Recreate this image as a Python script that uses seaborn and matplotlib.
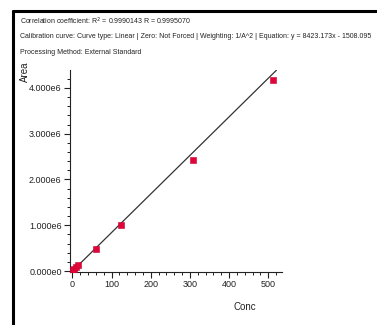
import matplotlib
matplotlib.use("Agg")
import matplotlib.pyplot as plt
import seaborn as sns
import numpy as np
import pandas as pd
from matplotlib.lines import Line2D
from matplotlib.ticker import FuncFormatter, MultipleLocator

# calibration standards
conc = [0.5, 1, 2, 5, 10, 15, 61, 123, 307, 512]
area = [0.004e6, 0.008e6, 0.016e6, 0.04e6, 0.083e6, 0.125e6, 0.49e6, 1.0e6, 2.43e6, 4.17e6]

# fitted line from the stated equation
slope = 8423.173
intercept = -1508.095
fit_ends = [0, 521]

header = [
    "Correlation coefficient: R$^2$ = 0.9990143 R = 0.9995070",
    "Calibration curve: Curve type: Linear | Zero: Not Forced | Weighting: 1/A^2 | Equation: y = 8423.173x - 1508.095",
    "Processing Method: External Standard",
]

sns.set_theme(style="ticks")
plt.rcParams["font.family"] = ["Liberation Sans", "DejaVu Sans"]

W, H = 377, 325
fig = plt.figure(figsize=(W / 100, H / 100), dpi=100)
fig.patch.set_facecolor("white")

ax = fig.add_axes([70 / W, 1 - 272 / H, (282 - 70) / W, (272 - 70) / H])
ax.set_facecolor("white")

pts = pd.DataFrame({"Conc": conc, "Area": area})
fit = pd.DataFrame({"Conc": fit_ends,
                    "Area": [slope * c + intercept for c in fit_ends]})

sns.lineplot(data=fit, x="Conc", y="Area", ax=ax, color="#333333", lw=0.9,
             zorder=2)
sns.scatterplot(data=pts, x="Conc", y="Area", ax=ax, marker="s", s=16,
                color="#e0063a", edgecolor="#c8002e", linewidth=0.4, zorder=3)

ax.set_xlim(-6, 535)
ax.set_ylim(-0.02e6, 4.39e6)
ax.xaxis.set_major_locator(MultipleLocator(100))
ax.xaxis.set_minor_locator(MultipleLocator(20))
ax.yaxis.set_major_locator(MultipleLocator(1e6))
ax.yaxis.set_minor_locator(MultipleLocator(0.2e6))


def sci(v, pos):
    if v == 0:
        return "0.000e0"
    e = int(np.floor(np.log10(abs(v))))
    return "%.3fe%d" % (v / 10 ** e, e)


ax.yaxis.set_major_formatter(FuncFormatter(sci))
ax.tick_params(which="major", length=4, width=0.8, labelsize=6.5, pad=2,
               colors="#222222")
ax.tick_params(which="minor", length=2.5, width=0.7, colors="#222222")
sns.despine(ax=ax)
for s in ("left", "bottom"):
    ax.spines[s].set_linewidth(0.8)
    ax.spines[s].set_color("#222222")

ax.set_xlabel("")
ax.set_ylabel("")
fig.text(245 / W, 1 - 307 / H, "Conc", ha="center", va="center", fontsize=7,
         color="#222222")
fig.text(25 / W, 1 - 72 / H, "Area", ha="center", va="center", rotation=90,
         fontsize=7, color="#222222")

for i, line in enumerate(header):
    fig.text(20 / W, 1 - (21 + 16 * i) / H, line, ha="left", va="center",
             fontsize=5.0, color="#222222")

# window frame lines
fig.add_artist(Line2D([13 / W, 13 / W], [0, 1 - 11 / H], color="black",
                      lw=2.2, transform=fig.transFigure))
fig.add_artist(Line2D([13 / W, 1], [1 - 11 / H, 1 - 11 / H], color="black",
                      lw=2.2, transform=fig.transFigure))

fig.savefig("out.png", dpi=100)
